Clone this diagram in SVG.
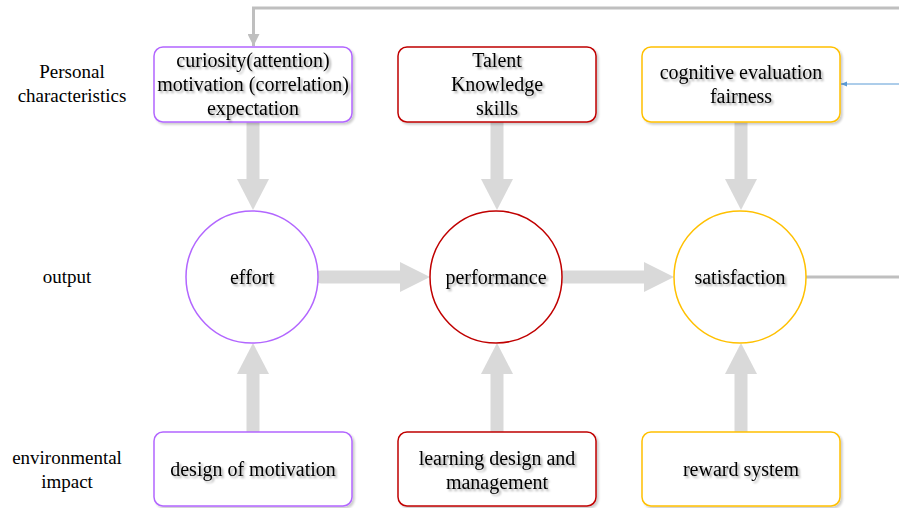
<svg xmlns="http://www.w3.org/2000/svg" width="899" height="508" viewBox="0 0 899 508">
<defs>
<filter id="ts" x="-10%" y="-30%" width="130%" height="170%">
<feGaussianBlur in="SourceAlpha" stdDeviation="1"/>
<feOffset dx="1.5" dy="1.5" result="b"/>
<feComponentTransfer><feFuncA type="linear" slope="0.35"/></feComponentTransfer>
<feMerge><feMergeNode/><feMergeNode in="SourceGraphic"/></feMerge>
</filter>
<filter id="bs" x="-5%" y="-10%" width="115%" height="130%">
<feGaussianBlur in="SourceAlpha" stdDeviation="1.2"/>
<feOffset dx="1.5" dy="1.5"/>
<feComponentTransfer><feFuncA type="linear" slope="0.2"/></feComponentTransfer>
<feMerge><feMergeNode/><feMergeNode in="SourceGraphic"/></feMerge>
</filter>
<marker id="ga" viewBox="0 0 10 10" refX="10" refY="5" markerWidth="4" markerHeight="4" orient="auto" markerUnits="strokeWidth">
<path d="M0,0 L10,5 L0,10 z" fill="#bfbfbf"/>
</marker>
<marker id="ba" viewBox="0 0 10 10" refX="10" refY="5" markerWidth="6" markerHeight="6" orient="auto" markerUnits="strokeWidth">
<path d="M0,1 L10,5 L0,9 z" fill="#5b9bd5"/>
</marker>
</defs>
<style>
text{font-family:"Liberation Serif","Times New Roman",serif;font-size:20px;fill:#000;text-anchor:middle}
.lbl{font-size:19px}
.nt{filter:url(#ts)}
.box{fill:#fff;stroke-width:1.5;filter:url(#bs)}
.pu{stroke:#b266ff}
.rd{stroke:#c00000}
.ye{stroke:#ffc000}
.shaft{stroke:#d9d9d9;stroke-width:13;stroke-linecap:round;fill:none}
.head{fill:#d9d9d9}
</style>

<g id="labels">
<text class="lbl" x="72" y="78">Personal</text>
<text class="lbl" x="72" y="102">characteristics</text>
<text class="lbl" x="67" y="283">output</text>
<text class="lbl" x="67" y="464">environmental</text>
<text class="lbl" x="67" y="488">impact</text>
</g>

<g id="connectors">
<line class="shaft" x1="253" y1="122" x2="253" y2="180"/>
<path class="head" d="M237,179 L269,179 L253,210 z"/>
<line class="shaft" x1="497" y1="122" x2="497" y2="180"/>
<path class="head" d="M481,179 L513,179 L497,210 z"/>
<line class="shaft" x1="741" y1="122" x2="741" y2="180"/>
<path class="head" d="M725,179 L757,179 L741,210 z"/>
<line class="shaft" x1="253" y1="432" x2="253" y2="373"/>
<path class="head" d="M237,374 L269,374 L253,343 z"/>
<line class="shaft" x1="497" y1="432" x2="497" y2="373"/>
<path class="head" d="M481,374 L513,374 L497,343 z"/>
<line class="shaft" x1="741" y1="432" x2="741" y2="373"/>
<path class="head" d="M725,374 L757,374 L741,343 z"/>
<line class="shaft" x1="321" y1="277" x2="401" y2="277"/>
<path class="head" d="M400,262 L400,292 L430,277 z"/>
<line class="shaft" x1="564" y1="277" x2="645" y2="277"/>
<path class="head" d="M644,262 L644,292 L674,277 z"/>
<polyline points="806,277 899,277" fill="none" stroke="#bfbfbf" stroke-width="3"/>
<polyline points="899,8 253.5,8 253.5,46" fill="none" stroke="#bfbfbf" stroke-width="3" marker-end="url(#ga)"/>
<line x1="899" y1="84" x2="841" y2="84" stroke="#5b9bd5" stroke-width="1" marker-end="url(#ba)"/>
</g>

<g id="n-curiosity">
<rect class="box pu" x="154" y="47" width="198" height="75" rx="9"/>
<text class="nt" x="253" y="67">curiosity(attention)</text>
<text class="nt" x="253" y="91">motivation (correlation)</text>
<text class="nt" x="253" y="115">expectation</text>
</g>
<g id="n-talent">
<rect class="box rd" x="398" y="47" width="198" height="75" rx="9"/>
<text class="nt" x="497" y="67">Talent</text>
<text class="nt" x="497" y="91">Knowledge</text>
<text class="nt" x="497" y="115">skills</text>
</g>
<g id="n-cognitive">
<rect class="box ye" x="642" y="47" width="198" height="75" rx="9"/>
<text class="nt" x="741" y="79">cognitive evaluation</text>
<text class="nt" x="741" y="103">fairness</text>
</g>

<g id="n-effort">
<circle cx="252" cy="277" r="66" fill="#fff" class="pu" stroke-width="1.5"/>
<text class="nt" x="252" y="284">effort</text>
</g>
<g id="n-performance">
<circle cx="496" cy="277" r="66" fill="#fff" class="rd" stroke-width="1.5"/>
<text class="nt" x="496" y="284">performance</text>
</g>
<g id="n-satisfaction">
<circle cx="740" cy="277" r="66" fill="#fff" class="ye" stroke-width="1.5"/>
<text class="nt" x="740" y="284">satisfaction</text>
</g>

<g id="n-design">
<rect class="box pu" x="154" y="432" width="198" height="74" rx="9"/>
<text class="nt" x="253" y="476">design of motivation</text>
</g>
<g id="n-learning">
<rect class="box rd" x="398" y="432" width="198" height="74" rx="9"/>
<text class="nt" x="497" y="465">learning design and</text>
<text class="nt" x="497" y="489">management</text>
</g>
<g id="n-reward">
<rect class="box ye" x="642" y="432" width="198" height="74" rx="9"/>
<text class="nt" x="741" y="476">reward system</text>
</g>
</svg>
